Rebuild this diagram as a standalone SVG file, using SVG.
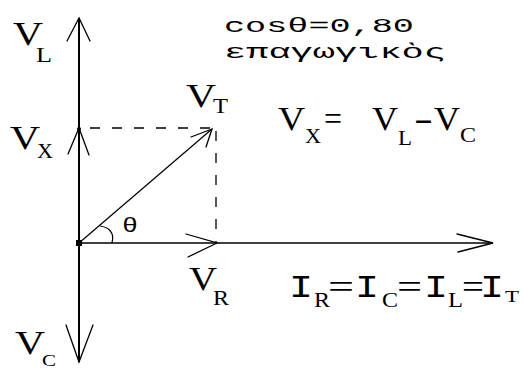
<svg xmlns="http://www.w3.org/2000/svg" width="524" height="368" viewBox="0 0 524 368">
<style>
.ax{stroke:#000;stroke-width:2;fill:none}
.ln{stroke:#000;stroke-width:1.2;fill:none}
.hd{stroke:#000;stroke-width:1.3;fill:none;stroke-linecap:round}
.ds{stroke:#000;stroke-width:1.3;fill:none;stroke-dasharray:10 12}
text{font-family:"Liberation Mono","DejaVu Sans Mono",monospace;fill:#000}
.b{font-family:"Liberation Serif","DejaVu Serif",serif;font-size:34px}
.s{font-family:"Liberation Serif","DejaVu Serif",serif;font-size:22px}
.m{font-size:32px}
.t{font-size:20px}
</style>
<rect width="524" height="368" fill="#fff"/>
<g id="connectors">
  <line class="ax" x1="79" y1="18" x2="79" y2="362"/>
  <line class="ax" x1="79" y1="243" x2="493" y2="243" style="stroke-width:1.6"/>
  <line class="ln" x1="79" y1="243" x2="212" y2="129"/>
  <line class="ds" x1="90" y1="128" x2="214" y2="128"/>
  <line class="ds" x1="216" y1="131" x2="216" y2="243"/>
  <polyline class="hd" points="67,41 79,18 90,41"/>
  <polyline class="hd" points="68,154 79,128 89,155"/>
  <polyline class="hd" points="66,325 79,362 93,325"/>
  <polyline class="hd" points="186,234 217,243 188,257"/>
  <polyline class="hd" points="457,234 493,243 458,252"/>
  <polyline class="hd" points="191,137 212,129 206,147"/>
  <path class="ln" d="M100,226 C108,227 115,232 112,243"/>
  <rect x="76" y="240" width="6" height="6" fill="#000"/>
  <circle cx="79" cy="129" r="2" fill="#000"/>
</g>
<g id="VL"><text class="b" x="13" y="45" textLength="30" lengthAdjust="spacingAndGlyphs">V</text><text class="s" x="36" y="62" textLength="16" lengthAdjust="spacingAndGlyphs">L</text></g>
<g id="VX"><text class="b" x="10" y="149" textLength="30" lengthAdjust="spacingAndGlyphs">V</text><text class="s" x="37" y="158" textLength="16" lengthAdjust="spacingAndGlyphs">X</text></g>
<g id="VT"><text class="b" x="186" y="107" textLength="30" lengthAdjust="spacingAndGlyphs">V</text><text class="s" x="213" y="113" textLength="15" lengthAdjust="spacingAndGlyphs">T</text></g>
<g id="VR"><text class="b" x="189" y="290" textLength="28" lengthAdjust="spacingAndGlyphs">V</text><text class="s" x="213" y="305" textLength="16" lengthAdjust="spacingAndGlyphs">R</text></g>
<g id="VC"><text class="b" x="15" y="354" textLength="30" lengthAdjust="spacingAndGlyphs">V</text><text class="s" x="42" y="366" textLength="14" lengthAdjust="spacingAndGlyphs" style="font-size:16px">C</text></g>
<g id="theta"><text class="t" x="122" y="232" textLength="16" lengthAdjust="spacingAndGlyphs">θ</text></g>
<g id="info">
  <text class="t" x="224" y="32" textLength="190" lengthAdjust="spacingAndGlyphs">cosθ=0,80</text>
  <text class="t" x="224" y="58" textLength="222" lengthAdjust="spacingAndGlyphs">επαγωγικὸς</text>
</g>
<g id="eqVX">
  <text class="b" x="278" y="130" textLength="27" lengthAdjust="spacingAndGlyphs">V</text><text class="s" x="305" y="143" textLength="16" lengthAdjust="spacingAndGlyphs">X</text>
  <text class="b" x="324" y="130" textLength="18" lengthAdjust="spacingAndGlyphs">=</text>
  <text class="b" x="372" y="130" textLength="26" lengthAdjust="spacingAndGlyphs">V</text><text class="s" x="398" y="145" textLength="14" lengthAdjust="spacingAndGlyphs">L</text>
  <text class="b" x="414" y="130" textLength="19" lengthAdjust="spacingAndGlyphs">-</text>
  <text class="b" x="434" y="130" textLength="26" lengthAdjust="spacingAndGlyphs">V</text><text class="s" x="460" y="142" textLength="16" lengthAdjust="spacingAndGlyphs">C</text>
</g>
<g id="eqI">
  <text class="m" x="289" y="297" textLength="24" lengthAdjust="spacingAndGlyphs">I</text><text class="s" x="314" y="307" textLength="16" lengthAdjust="spacingAndGlyphs">R</text>
  <text class="b" x="328" y="298" textLength="26" lengthAdjust="spacingAndGlyphs">=</text>
  <text class="m" x="355" y="297" textLength="24" lengthAdjust="spacingAndGlyphs">I</text><text class="s" x="382" y="307" textLength="16" lengthAdjust="spacingAndGlyphs">C</text>
  <text class="b" x="397" y="298" textLength="25" lengthAdjust="spacingAndGlyphs">=</text>
  <text class="m" x="424" y="297" textLength="24" lengthAdjust="spacingAndGlyphs">I</text><text class="s" x="448" y="307" textLength="15" lengthAdjust="spacingAndGlyphs">L</text>
  <text class="b" x="462" y="298" textLength="22" lengthAdjust="spacingAndGlyphs">=</text>
  <text class="m" x="480" y="297" textLength="24" lengthAdjust="spacingAndGlyphs">I</text><text class="s" x="505" y="302" textLength="14" lengthAdjust="spacingAndGlyphs" style="font-size:17px">T</text>
</g>
</svg>
